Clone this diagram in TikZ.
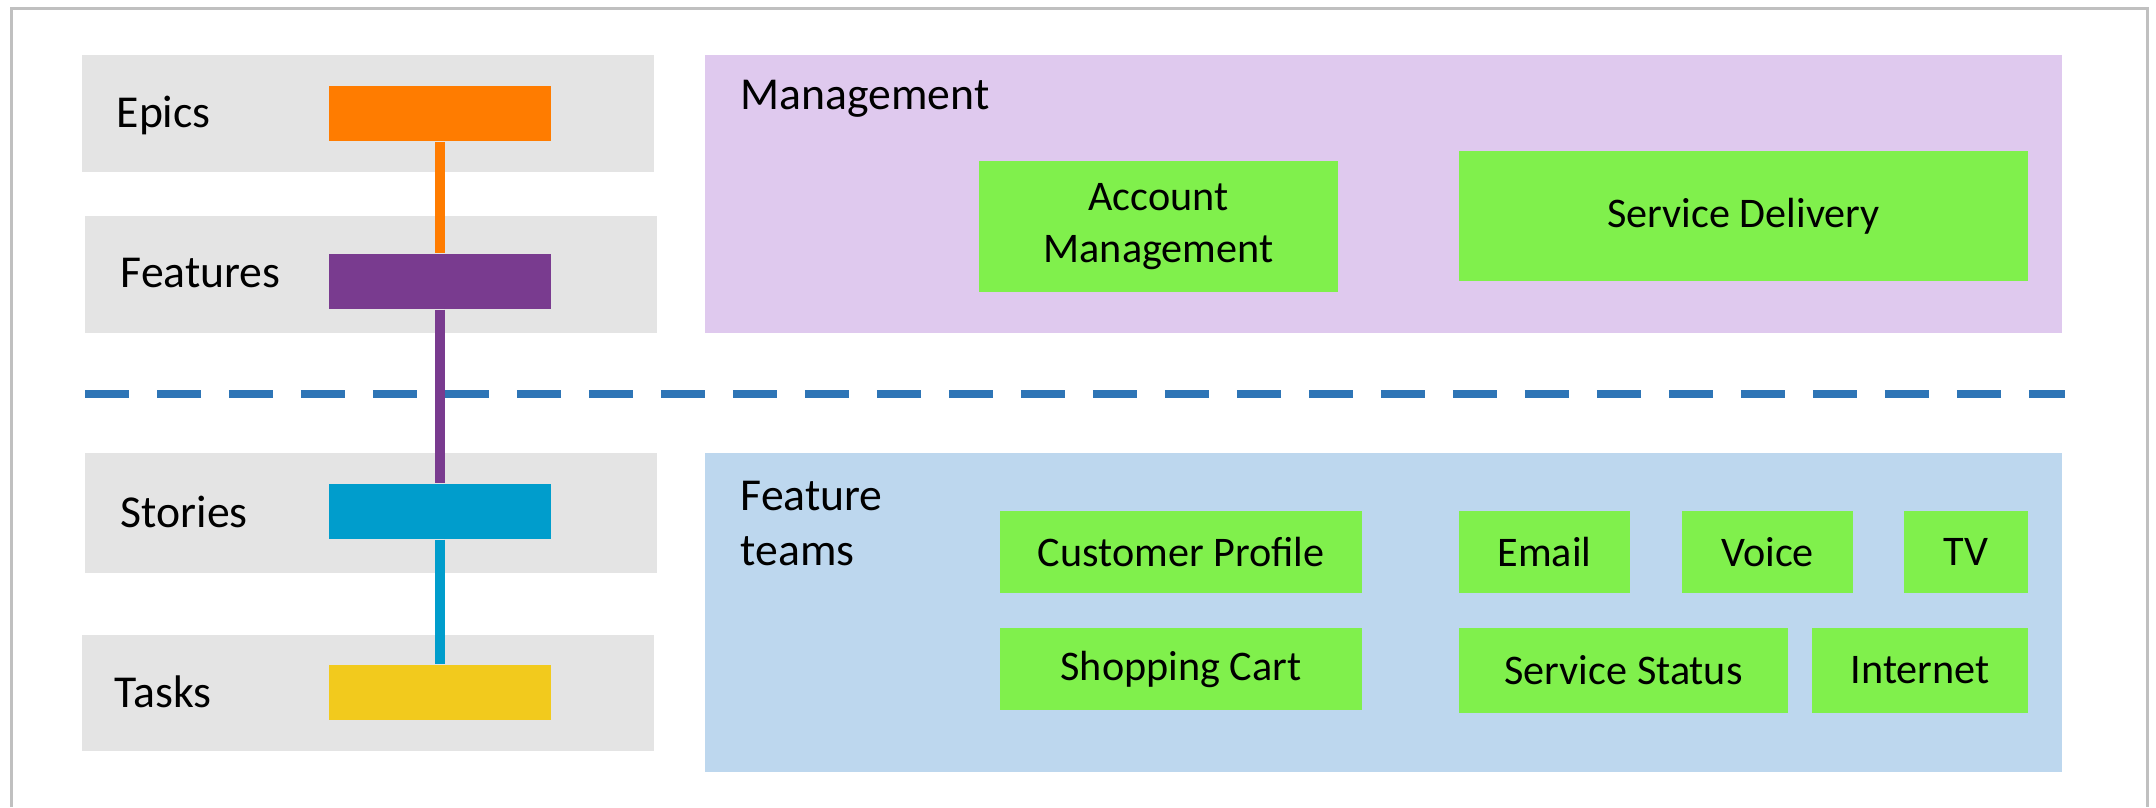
\documentclass[tikz,border=0pt]{standalone}
\usepackage{fontspec}
\setmainfont{Carlito}
\usepackage{tikz}
\usetikzlibrary{positioning}
\definecolor{rowgray}{HTML}{E4E4E4}
\definecolor{framegray}{HTML}{C0C0C0}
\definecolor{epicorange}{HTML}{FF7C00}
\definecolor{featpurple}{HTML}{793B8F}
\definecolor{storycyan}{HTML}{009DCC}
\definecolor{taskyellow}{HTML}{F2CA1D}
\definecolor{mgmtlilac}{HTML}{DFC9EE}
\definecolor{teamblue}{HTML}{BDD7EE}
\definecolor{teamgreen}{HTML}{80F04C}
\definecolor{sepblue}{HTML}{2E75B6}
\tikzset{
    level row/.style={
        fill=rowgray,
        minimum width=57.2mm,
        minimum height=11.7mm
    },
    level bar/.style={
        minimum width=22.2mm,
        minimum height=5.5mm
    },
    label text/.style={
        anchor=base west,
        inner sep=0pt,
        align=left,
        font=\fontsize{13pt}{15.6pt}\selectfont
    },
    area/.style={
        minimum width=135.7mm
    },
    team/.style={
        fill=teamgreen,
        align=center,
        inner sep=0pt
    },
    link/.style={
        line width=1mm
    }
}
\begin{document}
\begin{tikzpicture}[x=0.1mm,y=-0.1mm,font=\fontsize{12pt}{15pt}\selectfont]
  \useasboundingbox (0,0) rectangle (2156,807);
  \draw[framegray,line width=0.27mm] (11.5,807) -- (11.5,8.5) -- (2147.5,8.5) -- (2147.5,807);

  % the four levels
  \node[level row] (epics) at (368,113.5) {};
  \node[level row] (features) at (371,274.5) {};
  \node[level row,minimum height=12mm] (stories) at (371,513) {};
  \node[level row,minimum height=11.6mm] (tasks) at (368,693) {};
  \node[label text] (epicslabel) at (116,127) {Epics};
  \node[label text] (featureslabel) at (120,287) {Features};
  \node[label text] (storieslabel) at (120,527) {Stories};
  \node[label text] (taskslabel) at (114,707) {Tasks};
  \node[level bar,fill=epicorange] (epicsbar) at (440,113.5) {};
  \node[level bar,fill=featpurple] (featuresbar) at (440,281.5) {};
  \node[level bar,fill=storycyan] (storiesbar) at (440,511.5) {};
  \node[level bar,fill=taskyellow] (tasksbar) at (440,692.5) {};
  \foreach \s/\t/\c in {epics/features/epicorange,features/stories/featpurple,stories/tasks/storycyan}
    \draw[link,\c] (\s bar.south) -- (\t bar.north);

  % separator
  \coordinate (sepleft) at (85,394);
  \coordinate (sepright) at (2065,394);
  \draw[sepblue,line width=0.8mm,dash pattern=on 4.4mm off 2.8mm] (sepleft) -- (sepright);

  % management
  \node[area,fill=mgmtlilac,minimum height=27.8mm] (mgmt) at (1383.5,194) {};
  \node[label text] (mgmtlabel) at (740,109) {Management};
  \node[team,minimum width=35.9mm,minimum height=13.1mm] (account) at (1158.5,226.5) {Account\\Management};
  \node[team,minimum width=56.9mm,minimum height=13mm] (delivery) at (1743.5,216) {Service Delivery};

  % feature teams
  \node[area,fill=teamblue,minimum height=31.9mm] (teams) at (1383.5,612.5) {};
  \node[label text] (teamslabel) at (740,565) {Feature\\teams};
  \node[team,minimum width=36.2mm,minimum height=8.2mm] (profile) at (1181,552) {Customer Profile};
  \node[team,minimum width=36.2mm,minimum height=8.2mm] (cart) at (1181,669) {Shopping Cart};
  \node[team,minimum width=17.1mm,minimum height=8.2mm] (email) at (1544.5,552) {Email};
  \node[team,minimum width=17.1mm,minimum height=8.2mm] (voice) at (1767.5,552) {Voice};
  \node[team,minimum width=12.4mm,minimum height=8.2mm] (tv) at (1966,552) {TV};
  \node[team,minimum width=32.9mm,minimum height=8.5mm] (status) at (1623.5,670.5) {Service Status};
  \node[team,minimum width=21.6mm,minimum height=8.5mm] (internet) at (1920,670.5) {Internet};
\end{tikzpicture}
\end{document}
